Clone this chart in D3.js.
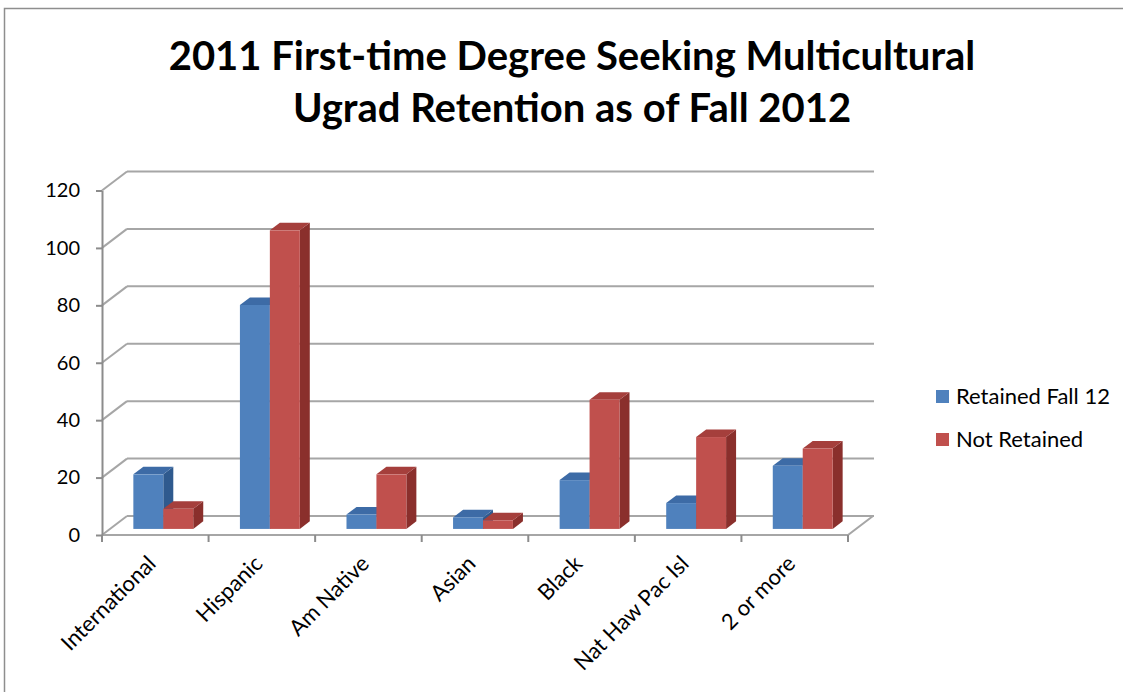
<!DOCTYPE html>
<html>
<head>
<meta charset="utf-8">
<script src="https://cdn.jsdelivr.net/npm/d3@7"></script>
<style>
  body { margin: 0; background: #fff; }
  text { font-family: Lato, "Open Sans", sans-serif; fill: #000; }
</style>
</head>
<body>
<div id="chart"></div>
<script>
// data
const CATEGORIES = ["International", "Hispanic", "Am Native", "Asian", "Black", "Nat Haw Pac Isl", "2 or more"];
const SERIES = ["Retained Fall 12", "Not Retained"];
const RETAINED = [19, 78, 5, 4, 17, 9, 22];
const NOT_RETAINED = [7, 104, 19, 3, 45, 32, 28];
const Y_TICKS = [0, 20, 40, 60, 80, 100, 120];
const TITLE_LINES = ["2011 First-time Degree Seeking Multicultural", "Ugrad Retention as of Fall 2012"];

const FRAME_WIDTH = 1123;
const FRAME_HEIGHT = 692;

// the fake 3d box: front plane plus a depth offset
const PLOT = {left: 102, right: 848, top: 190.5, bottom: 535};
const DEPTH = {dx: 25, dy: -19};
const BAR_Z0 = 0.32;  // where the bars' front face sits in depth
const BAR_Z = 0.4;    // how deep the bars are

const COLORS = {
  front: ["#4f81bd", "#c0504d"],
  top: ["#3d6ba6", "#a53f3c"],
  side: ["#2f5a8e", "#8a2f2c"],
  grid: "#a6a6a6",
  axis: "#8c8c8c"
};

const svg = d3.select("#chart")
  .append("svg")
    .attr("width", FRAME_WIDTH)
    .attr("height", FRAME_HEIGHT);

// chart area border
svg.append("rect")
  .attr("x", 4.5).attr("y", 8.5)
  .attr("width", 1140).attr("height", 700)
  .attr("fill", "#fff")
  .attr("stroke", "#8e8e8e")
  .attr("stroke-width", 1.5);

const Y_SCALE = d3.scaleLinear()
  .domain([0, 120])
  .range([PLOT.bottom, PLOT.top]);

const X_SCALE = d3.scaleBand()
  .domain(CATEGORIES)
  .range([PLOT.left, PLOT.right]);

const X_INNER = d3.scaleBand()
  .domain(SERIES)
  .range([0, X_SCALE.bandwidth()])
  .paddingOuter(0.78);

// walls: back gridlines + left wall diagonals
const grid = svg.append("g");
Y_TICKS.forEach(t => {
  const yf = Y_SCALE(t);
  grid.append("line")
    .attr("x1", PLOT.left).attr("y1", yf)
    .attr("x2", PLOT.left + DEPTH.dx).attr("y2", yf + DEPTH.dy)
    .attr("stroke", COLORS.grid).attr("stroke-width", 2);
  grid.append("line")
    .attr("x1", PLOT.left + DEPTH.dx).attr("y1", yf + DEPTH.dy)
    .attr("x2", PLOT.right + DEPTH.dx + 1).attr("y2", yf + DEPTH.dy)
    .attr("stroke", COLORS.grid).attr("stroke-width", 2);
});

// floor front edge and right edge
svg.append("path")
  .attr("d", d3.line()([
    [PLOT.left, PLOT.bottom],
    [PLOT.right, PLOT.bottom],
    [PLOT.right + DEPTH.dx, PLOT.bottom + DEPTH.dy]
  ]))
  .attr("fill", "none")
  .attr("stroke", COLORS.grid)
  .attr("stroke-width", 2);

// y axis
const yAxis = svg.append("g")
  .attr("transform", `translate(${PLOT.left},0)`)
  .call(d3.axisLeft(Y_SCALE).tickValues(Y_TICKS).tickSize(6).tickPadding(16).tickSizeOuter(0));
yAxis.select(".domain").attr("stroke", COLORS.axis).attr("stroke-width", 2);
yAxis.selectAll(".tick line").attr("stroke", COLORS.axis).attr("stroke-width", 2);
yAxis.selectAll(".tick text")
  .attr("font-size", "20px")
  .attr("font-family", "Lato, sans-serif")
  .attr("fill", "#000");

// category ticks along floor front edge
const catTicks = CATEGORIES.map(c => X_SCALE(c)).concat([PLOT.right]);
svg.append("g").selectAll("line")
  .data(catTicks)
  .join("line")
    .attr("x1", d => d).attr("x2", d => d)
    .attr("y1", PLOT.bottom).attr("y2", PLOT.bottom + 7)
    .attr("stroke", COLORS.axis).attr("stroke-width", 2);

// category labels, rotated
svg.append("g").selectAll("text")
  .data(CATEGORIES)
  .join("text")
    .attr("transform", d => `translate(${X_SCALE(d) + X_SCALE.bandwidth() / 2 + 2},${PLOT.bottom + 30}) rotate(-45)`)
    .attr("text-anchor", "end")
    .attr("font-size", "22px")
    .text(d => d);

// bars
const barData = [];
CATEGORIES.forEach((c, i) => {
  [RETAINED[i], NOT_RETAINED[i]].forEach((v, s) => barData.push({cat: c, s: s, value: v}));
});

const zx = BAR_Z0 * DEPTH.dx, zy = BAR_Z0 * DEPTH.dy;
const ddx = BAR_Z * DEPTH.dx, ddy = BAR_Z * DEPTH.dy;

const bars = svg.append("g").selectAll("g")
  .data(barData)
  .join("g");

bars.each(function(d) {
  const g = d3.select(this);
  const x0 = X_SCALE(d.cat) + X_INNER(SERIES[d.s]) + zx;
  const x1 = x0 + X_INNER.bandwidth();
  const yb = Y_SCALE(0) + zy;
  const yt = Y_SCALE(d.value) + zy;
  // side face
  g.append("path")
    .attr("d", d3.line()([[x1, yt], [x1 + ddx, yt + ddy], [x1 + ddx, yb + ddy], [x1, yb]]) + "Z")
    .attr("fill", COLORS.side[d.s]);
  // top face
  g.append("path")
    .attr("d", d3.line()([[x0, yt], [x0 + ddx, yt + ddy], [x1 + ddx, yt + ddy], [x1, yt]]) + "Z")
    .attr("fill", COLORS.top[d.s]);
  // front face
  g.append("rect")
    .attr("x", x0).attr("y", yt)
    .attr("width", x1 - x0).attr("height", yb - yt)
    .attr("fill", COLORS.front[d.s]);
});

// title
svg.append("g").selectAll("text")
  .data(TITLE_LINES)
  .join("text")
    .attr("x", 572)
    .attr("y", (d, i) => 70 + i * 52)
    .attr("text-anchor", "middle")
    .attr("font-size", "40px")
    .attr("font-weight", "bold")
    .text(d => d);

// legend
const legend = svg.append("g").selectAll("g")
  .data(SERIES)
  .join("g")
    .attr("transform", (d, i) => `translate(936,${390 + i * 43})`);
legend.append("rect")
  .attr("width", 13).attr("height", 13)
  .attr("fill", (d, i) => COLORS.front[i]);
legend.append("text")
  .attr("x", 20).attr("y", 14)
  .attr("font-size", "22px")
  .text(d => d);
</script>
</body>
</html>
